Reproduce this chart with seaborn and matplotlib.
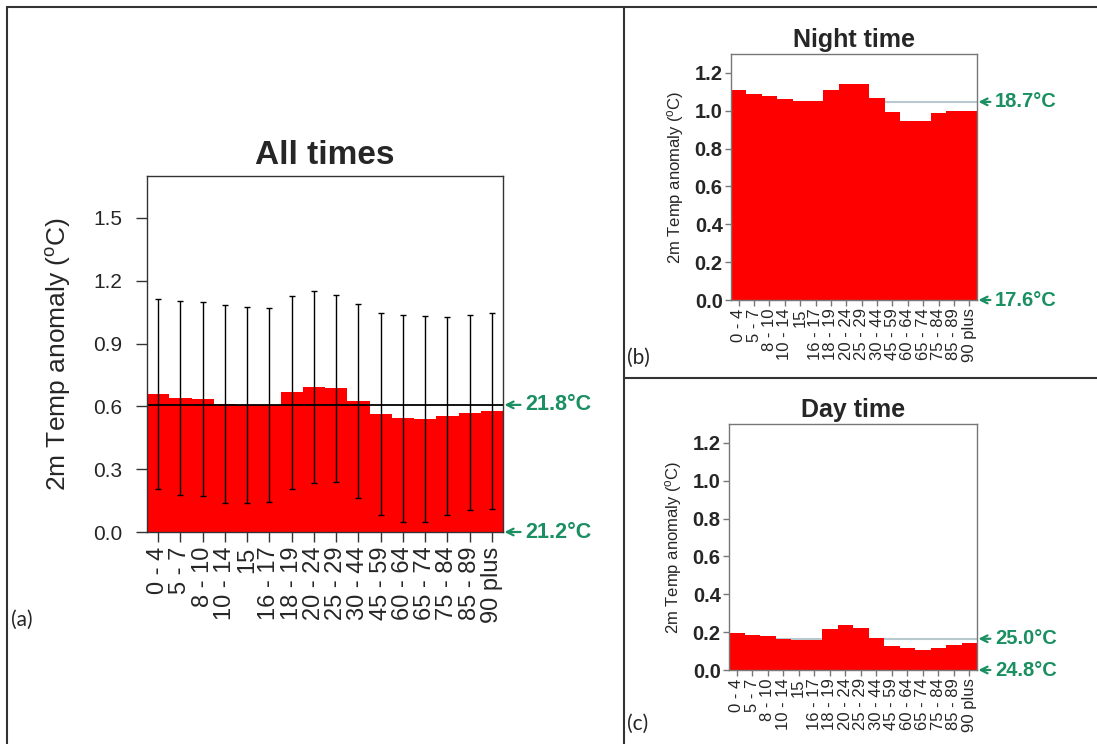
import matplotlib
matplotlib.use('Agg')
import matplotlib.pyplot as plt
from matplotlib.lines import Line2D
import numpy as np
import seaborn as sns

sns.set_style('ticks')
plt.rcParams['font.family'] = ['Liberation Sans', 'DejaVu Sans']
plt.rcParams['mathtext.default'] = 'regular'

# age groups on the x axis (same for all three panels)
age_groups = ['0 - 4', '5 - 7', '8 - 10', '10 - 14', '15', '16 - 17', '18 - 19',
              '20 - 24', '25 - 29', '30 - 44', '45 - 59', '60 - 64', '65 - 74',
              '75 - 84', '85 - 89', '90 plus']

# (a) all times: mean anomaly and error bar half-length
all_mean = [0.659, 0.639, 0.635, 0.612, 0.607, 0.607, 0.667, 0.691,
            0.686, 0.626, 0.564, 0.543, 0.540, 0.554, 0.570, 0.577]
all_err = [0.454, 0.462, 0.462, 0.472, 0.468, 0.464, 0.462, 0.458,
           0.448, 0.464, 0.484, 0.493, 0.490, 0.475, 0.466, 0.468]
all_ref = 0.607

# (b) night time
night_mean = [1.109, 1.089, 1.077, 1.060, 1.051, 1.051, 1.109, 1.139,
              1.139, 1.065, 0.993, 0.947, 0.947, 0.986, 0.998, 1.000]
night_ref = 1.047

# (c) day time
day_mean = [0.198, 0.186, 0.179, 0.165, 0.158, 0.157, 0.218, 0.237,
            0.223, 0.171, 0.127, 0.117, 0.108, 0.117, 0.134, 0.144]
day_ref = 0.165

green = '#1a8f62'
W, H = 1097, 744
fig = plt.figure(figsize=(W / 100, H / 100), dpi=100)


def px_axes(left, top, right, bottom):
    return fig.add_axes([left / W, 1 - bottom / H, (right - left) / W, (bottom - top) / H])


def draw_bars(ax, values, spine_col):
    sns.barplot(x=age_groups, y=values, color='red', saturation=1, width=1,
                linewidth=0, ax=ax, zorder=2)
    ax.set_xlim(-0.5, len(age_groups) - 0.5)
    ax.set_xlabel('')
    for s in ax.spines.values():
        s.set_visible(True)
        s.set_color(spine_col)
        s.set_linewidth(1.0)
        s.set_zorder(5)


def temp_arrow(ax, y, txt, size, gap):
    # green arrow pointing at the right edge of the axes, with the temperature
    ax.annotate(txt, xy=(1.0, y), xycoords=ax.get_yaxis_transform(),
                xytext=(gap, 0), textcoords='offset points',
                color=green, fontsize=size, fontweight='bold',
                va='center', ha='left', annotation_clip=False,
                arrowprops=dict(arrowstyle='->', color=green, lw=1.6,
                                shrinkA=1, shrinkB=1, mutation_scale=12))


# ---- panel (a)
ax_a = px_axes(147, 176, 503, 532)
draw_bars(ax_a, all_mean, '#333333')
ax_a.errorbar(np.arange(len(age_groups)), all_mean, yerr=all_err, fmt='none',
              ecolor='black', elinewidth=1, capsize=2, capthick=1, zorder=4)
ax_a.axhline(all_ref, color='black', lw=1.3, zorder=3)
ax_a.set_ylim(0, 1.7)
ax_a.set_yticks(np.arange(0, 1.51, 0.3))
ax_a.set_yticklabels([f'{v:.1f}' for v in np.arange(0, 1.51, 0.3)])
ax_a.tick_params(axis='y', labelsize=15, length=8, width=1, pad=10, color='#333333')
ax_a.tick_params(axis='x', labelsize=17, labelrotation=90, length=7, width=1, color='#333333')
ax_a.set_ylabel('2m Temp anomaly ($^{o}$C)', fontsize=19, labelpad=14)
ax_a.set_title('All times', fontsize=24, fontweight='bold', pad=9)
temp_arrow(ax_a, all_ref, '21.8°C', 15.5, 16)
temp_arrow(ax_a, 0.0, '21.2°C', 15.5, 16)

# ---- panels (b) and (c)
small = [
    (px_axes(731, 54, 977, 300), night_mean, night_ref, 'Night time', '18.7°C', '17.6°C'),
    (px_axes(729, 424, 977, 670), day_mean, day_ref, 'Day time', '25.0°C', '24.8°C'),
]
for ax, vals, ref, title, hi_txt, lo_txt in small:
    draw_bars(ax, vals, '#777777')
    ax.axhline(ref, color='#b9c8cf', lw=1.5, zorder=1)
    ax.set_ylim(0, 1.3)
    ax.set_yticks(np.arange(0, 1.21, 0.2))
    ax.set_yticklabels([f'{v:.1f}' for v in np.arange(0, 1.21, 0.2)])
    for lab in ax.get_yticklabels():
        lab.set_fontweight('bold')
    ax.tick_params(axis='y', labelsize=14.5, length=4, width=1, pad=2, color='#777777')
    ax.tick_params(axis='x', labelsize=12, labelrotation=90, length=4, width=1, pad=2,
                   color='#777777')
    ax.set_ylabel('2m Temp anomaly ($^{o}$C)', fontsize=12, labelpad=6)
    ax.set_title(title, fontsize=18, fontweight='bold', pad=5)
    temp_arrow(ax, ref, hi_txt, 14.5, 13)
    temp_arrow(ax, 0.0, lo_txt, 14.5, 13)

# ---- panel frames and letters
frame = dict(color='#333333', lw=1.5, transform=fig.transFigure)
fig.add_artist(Line2D([7 / W, 1], [1 - 7 / H, 1 - 7 / H], **frame))
fig.add_artist(Line2D([7 / W, 7 / W], [0, 1 - 7 / H], **frame))
fig.add_artist(Line2D([624 / W, 624 / W], [0, 1 - 7 / H], **frame))
fig.add_artist(Line2D([624 / W, 1], [1 - 378 / H, 1 - 378 / H], **frame))

for txt, x, y in [('(a)', 11, 620), ('(b)', 627, 358), ('(c)', 627, 724)]:
    fig.text(x / W, 1 - y / H, txt, fontsize=15, family=['Lato', 'DejaVu Sans'],
             va='center', ha='left')

fig.savefig('out.png', dpi=100)
